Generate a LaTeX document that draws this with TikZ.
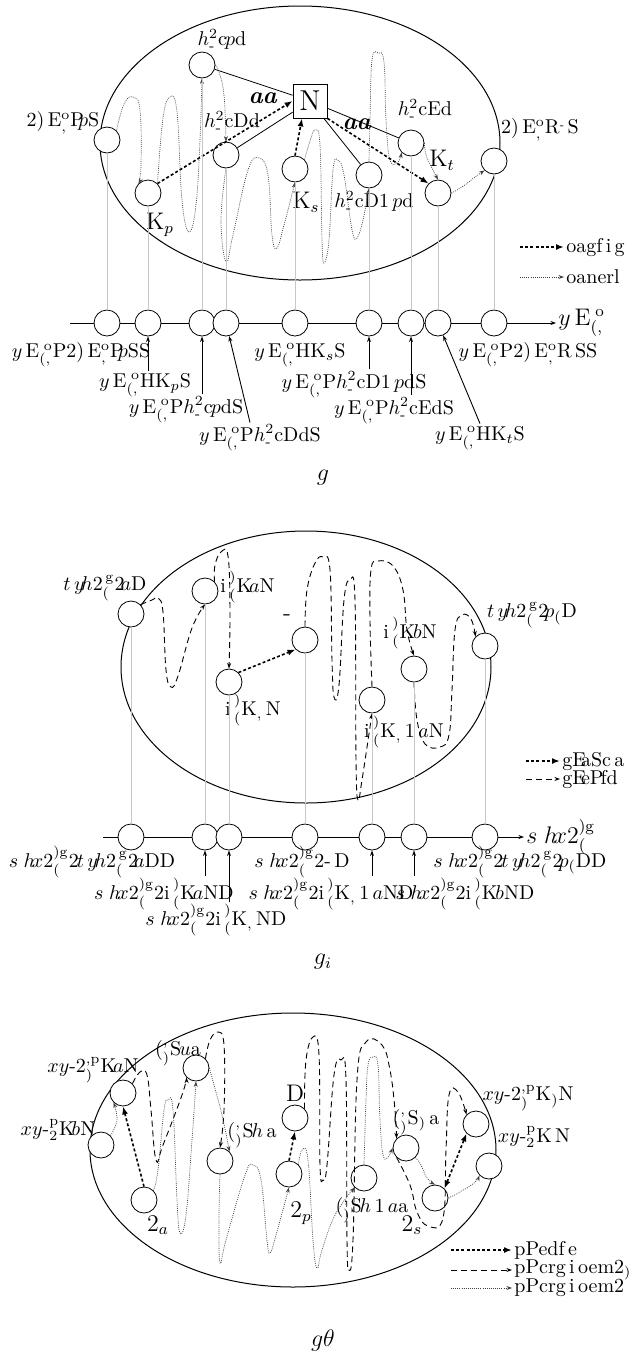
\documentclass[tikz,border=0pt]{standalone}
\usepackage{xcolor}
\usepackage{amsmath}
\usetikzlibrary{arrows.meta, calc}

\newcommand{\yEo}{$y$\,E$_{(,}^{\;\mathrm{o}}$}
\newcommand{\hcd}{$h^{2}_{\text{-}}$c}
\newcommand{\shx}{$s\;h\!x$2$^{)\mathrm{g}}_{(}$2}
\newcommand{\tyh}{$t\,y\!h$2$^{\,\mathrm{g}}_{(}$2}
\newcommand{\iK}{i\,$^{)}_{(}$K}
\newcommand{\xyp}{$xy$-2$^{,\mathrm{p}}_{)}$K}
\newcommand{\xyq}{$xy$-$^{\mathrm{p}}_{2}$K}
\newcommand{\cS}{($^{,}_{)}$S}

\begin{document}
\begin{tikzpicture}[x=0.5pt, y=-0.5pt, >={Stealth[length=2.8pt, width=2pt]},
  every node/.style={font=\normalsize, inner sep=1pt},
  vtx/.style={circle, draw, fill=white, minimum size=13pt, inner sep=0pt},
  guide/.style={black!22, line width=0.5pt},
  thickdot/.style={line width=0.8pt, dash pattern=on 1.5pt off 1.1pt, -{Latex[length=4pt, width=3pt]}},
  thindot/.style={->, black!75, line width=0.35pt, dash pattern=on 0.45pt off 0.6pt},
  dashline/.style={->, line width=0.45pt, dash pattern=on 3pt off 2pt},
  pointer/.style={->, line width=0.45pt}]
  \useasboundingbox (0,0) rectangle (633,1351);

  % ---------------- panel g ----------------
  \draw[line width=0.5pt] (300,143) ellipse [x radius=200, y radius=137];
  \node[vtx] (tP1) at (107,140) {};
  \node[vtx] (tH1) at (202,65) {};
  \node[vtx] (tH2) at (226,155) {};
  \node[vtx] (tKp) at (148,193) {};
  \node[vtx] (tKs) at (295,169) {};
  \node[draw, fill=white, font=\Large, minimum size=17pt, inner sep=0pt] (tN) at (310,101) {N};
  \node[vtx] (tH3) at (369,175) {};
  \node[vtx] (tH4) at (411,143) {};
  \node[vtx] (tKt) at (438,193) {};
  \node[vtx] (tP2) at (494,161) {};

  \node (tP1l) at (63,123) {2)\,E$^{\mathrm{o}}_{,}$P\kern-.3em$p$S};
  \node (tH1l) at (222,40) {\hcd\kern-.1em$p$d};
  \node (tH2l) at (232,122) {\hcd Dd};
  \node (tH3l) at (374,202) {\hcd D$1\,p$d};
  \node (tH4l) at (425,110) {\hcd Ed};
  \node (tP2l) at (540,130) {2)\,E$^{\mathrm{o}}_{,}$R\raisebox{.6ex}{\tiny-}\,S};
  \node[font=\large] (tKpl) at (160,225) {K$_{p}$};
  \node[font=\large] (tKsl) at (306,202) {K$_{s}$};
  \node[font=\large] (tKtl) at (442,160) {K$_{t}$};
  \node[font=\large] (tAa1) at (263,98) {\textbf{\textit{aa}}};
  \node[font=\large] (tAa2) at (357,124) {\textbf{\textit{aa}}};

  \draw (tH1) -- (tN);
  \draw (tH2) -- (tN);
  \draw (tN) -- (tH3);
  \draw (tN) -- (tH4);
  \draw[thickdot] (tKp.north east) -- (tN.west);
  \draw[thickdot] (tKs.north) -- ($(tN.south)+(-8,0)$);
  \draw[thickdot] (tN.south east) -- (tKt.north west);

  \draw[thindot] plot[smooth, tension=.7] coordinates {(tP1.north east) (124,104) (133,97) (140,110) (141,165) (tKp.north west)};
  \draw[thindot] plot[smooth, tension=.7] coordinates {(tKp.north east) (163,118) (170,97) (177,112) (182,200) (189,232) (196,205) (200,140) (tH1.south)};
  \draw[thindot] plot[smooth, tension=.7] coordinates {(tH1.east) (219,72) (224,95) (tH2.north)};
  \draw[thindot] plot[smooth, tension=.7] coordinates {(tH2.south) (221,220) (226,262) (233,235) (248,170) (259,158) (268,175) (272,235) (277,248) (284,225) (tKs.south)};
  \draw[thindot] plot[smooth, tension=.7] coordinates {(tKs.north east) (311,138) (315,130) (320,145) (322,240) (324,263) (329,240) (333,170) (338,160) (344,175) (352,230) (357,238) (363,220) (tH3.south)};
  \draw[thindot] plot[smooth, tension=.7] coordinates {(tH3.north) (370,120) (372,60) (378,53) (384,62) (386,120) (390,160) (398,162) (tH4.south west)};
  \draw[thindot] plot[smooth, tension=.7] coordinates {(tH4.east) (426,155) (432,168) (tKt.north)};
  \draw[thindot] plot[smooth, tension=.7] coordinates {(tKt.east) (462,187) (475,177) (tP2.south west)};

  \coordinate (tax) at (70,323);
  \node[font=\large, anchor=west] (taxl) at (556,323) {$y$\,E$_{(,}^{\;\mathrm{o}}$};
  \draw[->] (tax) -- (taxl.west);
  \node[vtx] (ta1) at (107,323) {};
  \node[vtx] (ta2) at (148,323) {};
  \node[vtx] (ta3) at (202,323) {};
  \node[vtx] (ta4) at (226,323) {};
  \node[vtx] (ta5) at (295,323) {};
  \node[vtx] (ta6) at (369,323) {};
  \node[vtx] (ta7) at (411,323) {};
  \node[vtx] (ta8) at (438,323) {};
  \node[vtx] (ta9) at (494,323) {};
  \draw[guide] (tP1) -- (ta1);
  \draw[guide] (tKp) -- (ta2);
  \draw[guide] (tH1) -- (ta3);
  \draw[guide] (tH2) -- (ta4);
  \draw[guide] (tKs) -- (ta5);
  \draw[guide] (tH3) -- (ta6);
  \draw[guide] (tH4) -- (ta7);
  \draw[guide] (tKt) -- (ta8);
  \draw[guide] (tP2) -- (ta9);

  \node (gl1) at (81,355) {\yEo P2)\,E$^{\mathrm{o}}_{,}$P\kern-.3em$p$SS};
  \node (gl2) at (145,385) {\yEo HK$_{p}$S};
  \node (gl3) at (186,410) {\yEo P\hcd\kern-.1em$p$dS};
  \node (gl4) at (260,438) {\yEo P\hcd DdS};
  \node (gl5) at (300,355) {\yEo HK$_{s}$S};
  \node (gl6) at (354,385) {\yEo P\hcd D$1\,p$dS};
  \node (gl7) at (394,411) {\yEo P\hcd EdS};
  \node (gl8) at (480,438) {\yEo HK$_{t}$S};
  \node (gl9) at (528,355) {\yEo P2)\,E$^{\mathrm{o}}_{,}$R\,SS};
  \draw[pointer] (gl2.north -| ta2) -- (ta2);
  \draw[pointer] (gl3.north -| ta3) -- (ta3);
  \draw[pointer] ($(gl4.north)+(-10,0)$) -- (ta4);
  \draw[pointer] (gl6.north -| ta6) -- (ta6);
  \draw[pointer] (gl7.north -| ta7) -- (ta7);
  \draw[pointer] (gl8.north) -- (ta8);

  \coordinate (tk1) at (520,247);
  \node[anchor=west] (tk1l) at (564,247) {oagf\,i\,g};
  \draw[thickdot] (tk1) -- (tk1l.west);
  \coordinate (tk2) at (520,277);
  \node[anchor=west] (tk2l) at (564,277) {oanerl};
  \draw[thindot] (tk2) -- (tk2l.west);

  \node[font=\large] (tcap) at (323,478) {$g$};

  % ---------------- panel g_i ----------------
  \draw[line width=0.5pt] (306,667) ellipse [x radius=185, y radius=136];
  \node[vtx] (mC1) at (131,614) {};
  \node[vtx] (mC2) at (205,591) {};
  \node[vtx] (mC3) at (229,682) {};
  \node[vtx] (mC4) at (305,640) {};
  \node[vtx] (mC5) at (372,700) {};
  \node[vtx] (mC6) at (414,669) {};
  \node[vtx] (mC7) at (485,646) {};

  \node (mC1l) at (105,588) {\tyh\kern-.2em$a$D};
  \node[anchor=west] (mC2l) at (218,587) {\iK\kern-.15em$a$N};
  \node (mC3l) at (253,710) {\iK$_{,}$\,N};
  \node[font=\large] (mC4l) at (287,618) {-};
  \node (mC5l) at (404,732) {\iK$_{,}$\,$1\,a$N};
  \node (mC6l) at (410,633) {\iK\kern-.1em$b$N};
  \node (mC7l) at (532,615) {\tyh\kern-.2em$p_{(}$D};

  \draw[thickdot] (mC3.north east) -- (mC4.south west);
  \draw[dashline] plot[smooth, tension=.7] coordinates {(mC1.north east) (152,600) (158,598) (163,612) (166,670) (171,687) (178,676) (192,628) (mC2.south)};
  \draw[dashline] plot[smooth, tension=.7] coordinates {(mC2.north east) (215,565) (221,552) (228,556) (230,610) (mC3.north)};
  \draw[dashline] plot[smooth, tension=.7] coordinates {(mC4.north) (307,590) (315,563) (323,557) (330,570) (332,660) (334,697) (339,685) (344,600) (350,580) (355,600) (356,760) (358,800) (362,780) (mC5.south)};
  \draw[dashline] plot[smooth, tension=.7] coordinates {(mC5.north) (370,620) (371,570) (378,561) (393,566) (403,590) (407,630) (mC6.north)};
  \draw[dashline] plot[smooth, tension=.7] coordinates {(mC6.south) (417,720) (425,744) (440,747) (449,735) (452,690) (455,630) (462,615) (471,619) (mC7.north west)};

  \coordinate (max) at (103,837);
  \node[font=\large, anchor=west] (maxl) at (524,837) {$s\;h\!x$2$^{)\mathrm{g}}_{(}$};
  \draw[->] (max) -- (maxl.west);
  \node[vtx] (ma1) at (131,837) {};
  \node[vtx] (ma2) at (205,837) {};
  \node[vtx] (ma3) at (229,837) {};
  \node[vtx] (ma4) at (305,837) {};
  \node[vtx] (ma5) at (372,837) {};
  \node[vtx] (ma6) at (414,837) {};
  \node[vtx] (ma7) at (485,837) {};
  \draw[guide] (mC1) -- (ma1);
  \draw[guide] (mC2) -- (ma2);
  \draw[guide] (mC3) -- (ma3);
  \draw[guide] (mC4) -- (ma4);
  \draw[guide] (mC5) -- (ma5);
  \draw[guide] (mC6) -- (ma6);
  \draw[guide] (mC7) -- (ma7);

  \node (ml1) at (92,862) {\shx\kern-.1em\tyh\kern-.2em$a$DD};
  \node (ml2) at (164,894) {\shx\iK\kern-.15em$a$ND};
  \node (ml3) at (216,920) {\shx\iK$_{,}$\,ND};
  \node (ml4) at (302,862) {\shx-\,D};
  \node (ml5) at (331,894) {\shx\iK$_{,}$\,$1\,a$ND};
  \node (ml6) at (465,894) {\shx\iK\kern-.1em$b$ND};
  \node (ml7) at (520,862) {\shx\kern-.1em\tyh\kern-.2em$p_{(}$DD};
  \draw[pointer] (ml2.north -| ma2) -- (ma2);
  \draw[pointer] (ml3.north -| ma3) -- (ma3);
  \draw[pointer] (ml5.north -| ma5) -- (ma5);
  \draw[pointer] (ml6.north -| ma6) -- (ma6);

  \coordinate (mk1) at (526,761);
  \node[anchor=west] (mk1l) at (560,761) {gE\kern-.25em aSc\,a};
  \draw[thickdot] (mk1) -- (mk1l.west);
  \coordinate (mk2) at (526,779);
  \node[anchor=west] (mk2l) at (560,779) {gE\kern-.25em eP\kern-.15em fd};
  \draw[dashline] (mk2) -- (mk2l.west);

  \node[font=\large] (mcap) at (323,962) {$g_{i}$};

  % ---------------- panel g theta ----------------
  \draw[line width=0.5pt] (293,1150) ellipse [x radius=203, y radius=137];
  \node[vtx] (bB1) at (123,1093) {};
  \node[vtx] (bB2) at (101,1145) {};
  \node[vtx] (bB3) at (144,1200) {};
  \node[vtx] (bB4) at (196,1068) {};
  \node[vtx] (bB5) at (220,1161) {};
  \node[vtx] (bB6) at (295,1118) {};
  \node[vtx] (bB7) at (289,1174) {};
  \node[vtx] (bB8) at (364,1178) {};
  \node[vtx] (bB9) at (406,1148) {};
  \node[vtx] (bB10) at (476,1124) {};
  \node[vtx] (bB11) at (489,1166) {};
  \node[vtx] (bB12) at (435,1198) {};

  \node (bB1l) at (93,1070) {\xyp\kern-.15em$a$N};
  \node (bB2l) at (58,1130) {\xyq\kern-.15em$b$N};
  \node[font=\large] (bB3l) at (158,1225) {2$_{a}$};
  \node (bB4l) at (178,1053) {\cS\kern-.1em$u$a};
  \node (bB5l) at (252,1135) {\cS\kern-.1em$h$\,a};
  \node[font=\large] (bB6l) at (295,1093) {D};
  \node[font=\large] (bB7l) at (301,1213) {2$_{p}$};
  \node (bB8l) at (372,1210) {\cS\kern-.1em$h\,1\,a$a};
  \node (bB9l) at (416,1122) {\cS$_{)}$\,a};
  \node (bB10l) at (528,1098) {\xyp$_{)}$N};
  \node (bB11l) at (534,1137) {\xyq\,N};
  \node[font=\large] (bB12l) at (412,1225) {2$_{s}$};

  \draw[thickdot] (bB3.north) -- (bB1.south);
  \draw[thickdot] (bB7.north) -- (bB6.south);
  \draw[thickdot, {Latex[length=4pt, width=3pt]}-{Latex[length=4pt, width=3pt]}] (bB12.north east) -- (bB10.south west);

  \draw[dashline] plot[smooth, tension=.7] coordinates {(bB1.north east) (140,1072) (147,1075) (151,1110) (156,1160) (163,1145) (182,1095) (bB4.south west)};
  \draw[dashline] plot[smooth, tension=.7] coordinates {(bB4.north east) (210,1040) (218,1032) (224,1045) (224,1110) (bB5.north)};
  \draw[dashline] plot[smooth, tension=.7] coordinates {(bB6.north east) (306,1060) (313,1037) (319,1055) (320,1165) (323,1180) (327,1165) (334,1075) (341,1060) (346,1080) (347,1240) (349,1270) (353,1240) (357,1080) (366,1042) (382,1045) (390,1070) (395,1110) (bB9.north west)};
  \draw[dashline] plot[smooth, tension=.7] coordinates {(bB9.south west) (410,1185) (417,1212) (428,1226) (443,1218) (446,1150) (449,1095) (458,1092) (bB10.north west)};

  \draw[thindot] plot[smooth, tension=.7] coordinates {(bB2.north east) (117,1120) (bB1.south west)};
  \draw[thindot] plot[smooth, tension=.7] coordinates {(bB3.north east) (158,1170) (164,1110) (168,1100) (173,1110) (177,1200) (180,1233) (186,1215) (192,1140) (bB4.south)};
  \draw[thindot] plot[smooth, tension=.7] coordinates {(bB4.east) (214,1085) (222,1115) (bB5.north east)};
  \draw[thindot] plot[smooth, tension=.7] coordinates {(bB5.south) (219,1220) (220,1263) (226,1240) (245,1175) (253,1165) (261,1180) (267,1240) (270,1253) (276,1235) (bB7.south)};
  \draw[thindot] plot[smooth, tension=.7] coordinates {(bB7.north east) (302,1150) (308,1160) (313,1240) (317,1268) (322,1250) (335,1215) (bB8.south west)};
  \draw[thindot] plot[smooth, tension=.7] coordinates {(bB8.north) (366,1100) (368,1065) (373,1057) (378,1065) (380,1120) (384,1158) (bB9.west)};
  \draw[thindot] plot[smooth, tension=.7] coordinates {(bB9.south east) (421,1165) (427,1178) (bB12.north)};
  \draw[thindot] plot[smooth, tension=.7] coordinates {(bB12.east) (460,1192) (474,1183) (bB11.south west)};

  \coordinate (bk1) at (451,1250);
  \node[anchor=west] (bk1l) at (512,1250) {pPedf\,e};
  \draw[thickdot] (bk1) -- (bk1l.west);
  \coordinate (bk2) at (451,1270);
  \node[anchor=west] (bk2l) at (512,1270) {pPcrg\,i\,oem2$_{)}$};
  \draw[dashline] (bk2) -- (bk2l.west);
  \coordinate (bk3) at (451,1288);
  \node[anchor=west] (bk3l) at (512,1288) {pPcrg\,i\,oem2};
  \draw[thindot] (bk3) -- (bk3l.west);

  \node[font=\large] (bcap) at (323,1340) {$g\theta$};
\end{tikzpicture}
\end{document}
